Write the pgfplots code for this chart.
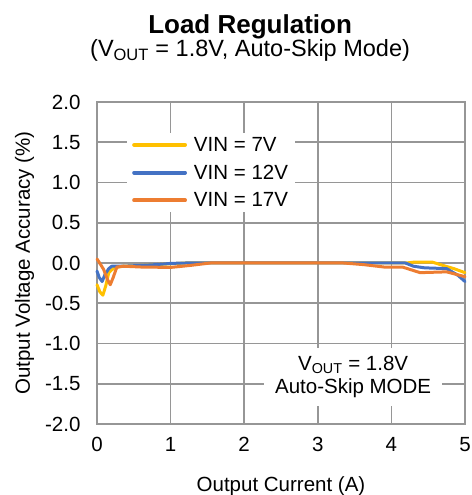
\documentclass[border=0pt]{standalone}
\usepackage{pgfplots}
\pgfplotsset{compat=1.18}
\usepackage{fontspec}
\setmainfont{Liberation Sans}
\definecolor{cyel}{HTML}{FFC000}
\definecolor{cblu}{HTML}{4472C4}
\definecolor{cora}{HTML}{ED7D31}
\definecolor{cgrid}{HTML}{969696}
\newcommand{\bodyfont}{\fontsize{20.5}{24.6}\selectfont}
\begin{document}
\begin{tikzpicture}
\begin{axis}[
  scale only axis,
  width=368pt, height=322pt,
  xmin=0, xmax=5, ymin=-2, ymax=2,
  xtick={0,1,2,3,4,5},
  ytick={-2,-1.5,-1,-0.5,0,0.5,1,1.5,2},
  /pgf/number format/assume math mode=true,
  yticklabel style={/pgf/number format/fixed, /pgf/number format/fixed zerofill, /pgf/number format/precision=1, xshift=-13pt},
  xticklabel style={yshift=-10pt},
  tick label style={font=\bodyfont},
  major tick length=0pt,
  grid=major,
  major grid style={cgrid, line width=1.6pt},
  axis line style={cgrid, line width=1.6pt},
  clip=false,
  xlabel={Output Current (A)},
  ylabel={Output Voltage Accuracy (\%)},
  xlabel style={at={([yshift=-67pt]rel axis cs:0.5,0)}, anchor=base, font=\bodyfont},
  ylabel style={at={([xshift=-67pt]rel axis cs:0,0.5)}, anchor=base, rotate=0, font=\bodyfont},
  legend style={at={(rel axis cs:0.0815,0.904)}, anchor=north west, fill=white, draw=none, font=\bodyfont, inner xsep=5pt, inner ysep=2pt, row sep=8pt, column sep=5pt},
  legend cell align=left,
  legend image code/.code={\draw[#1, line width=3.8pt, line cap=round] (2pt,0pt) -- (53pt,0pt);},
  every axis plot/.append style={line width=3pt, line join=round, line cap=round},
]
\addplot[cyel] coordinates {
(0,-0.27) (0.04,-0.36) (0.08,-0.40) (0.12,-0.28) (0.16,-0.12) (0.23,-0.06) (0.35,-0.04)
(0.6,-0.03) (0.8,-0.02) (1.0,-0.01) (1.2,0) (1.5,0) (2,0) (3,0) (3.5,0) (4,0) (4.2,0)
(4.3,0.01) (4.56,0.01) (4.7,-0.03) (4.85,-0.07) (5,-0.12)};
\addlegendentry{VIN = 7V}
\addplot[cblu] coordinates {
(0,-0.10) (0.03,-0.18) (0.07,-0.23) (0.11,-0.14) (0.16,-0.07) (0.2,-0.04) (0.35,-0.04)
(0.6,-0.03) (0.8,-0.02) (1.0,-0.005) (1.2,0) (1.5,0) (2,0) (3,0) (4,0) (4.19,0)
(4.3,-0.04) (4.45,-0.06) (4.75,-0.07) (4.9,-0.15) (5,-0.23)};
\addlegendentry{VIN = 12V}
\addplot[cora] coordinates {
(0,0.05) (0.05,-0.02) (0.09,-0.08) (0.14,-0.2) (0.18,-0.27) (0.22,-0.18) (0.27,-0.05)
(0.36,-0.04) (0.6,-0.05) (1.0,-0.055) (1.27,-0.03) (1.54,0) (2,0) (3,0) (3.35,0)
(3.62,-0.02) (3.9,-0.05) (4.15,-0.05) (4.39,-0.12) (4.75,-0.11) (5,-0.17)};
\addlegendentry{VIN = 17V}
\node[fill=white, inner sep=0pt, minimum width=178pt, minimum height=58pt, align=center, font=\bodyfont]
  at (axis cs:3.48,-1.418) {V\textsubscript{OUT} = 1.8V\\[-1pt]Auto-Skip MODE};
\node[anchor=base, font=\bfseries\fontsize{26}{30}\selectfont] at ([yshift=68pt]rel axis cs:0.416,1) {Load Regulation};
\node[anchor=base, font=\fontsize{23.5}{28}\selectfont] at ([yshift=45pt]rel axis cs:0.416,1) {(V\textsubscript{OUT} = 1.8V, Auto-Skip Mode)};
\coordinate (bl) at ([xshift=-97pt, yshift=-71pt]rel axis cs:0,0);
\coordinate (tr) at ([xshift=7pt, yshift=102pt]rel axis cs:1,1);
\end{axis}
\pgfresetboundingbox
\path[use as bounding box] (bl) rectangle (tr);
\end{tikzpicture}
\end{document}
